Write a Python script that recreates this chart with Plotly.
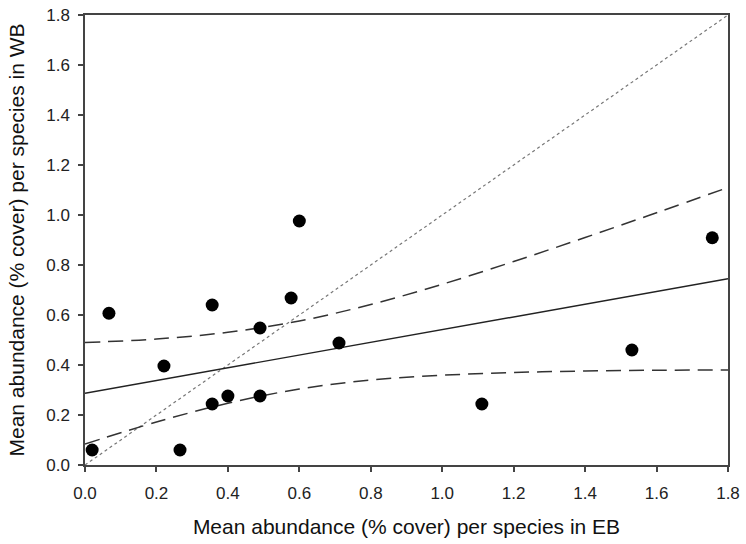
import plotly.graph_objects as go

# Scatter data
eb_x = [0.020, 0.067, 0.221, 0.266, 0.356, 0.356, 0.400, 0.490, 0.490, 0.577, 0.600, 0.711, 1.111, 1.531, 1.756]
wb_y = [0.060, 0.607, 0.396, 0.060, 0.640, 0.244, 0.276, 0.548, 0.276, 0.668, 0.976, 0.488, 0.244, 0.460, 0.909]

# Regression line endpoints (read)
fit_x = [0.0, 1.8]
fit_y = [0.287, 0.745]

# Confidence band (read at grid points)
ci_x = [0.0, 0.2, 0.4, 0.6, 0.8, 1.0, 1.2, 1.4, 1.6, 1.8]
ci_upper = [0.490, 0.504, 0.531, 0.576, 0.642, 0.723, 0.814, 0.910, 1.009, 1.110]
ci_lower = [0.084, 0.172, 0.247, 0.304, 0.340, 0.359, 0.370, 0.376, 0.379, 0.380]

# 1:1 line
one_x = [0.0, 1.8]
one_y = [0.0, 1.8]

tick_vals = [0.0, 0.2, 0.4, 0.6, 0.8, 1.0, 1.2, 1.4, 1.6, 1.8]
tick_text = ["0.0", "0.2", "0.4", "0.6", "0.8", "1.0", "1.2", "1.4", "1.6", "1.8"]

FONT = "Liberation Sans, Arial, sans-serif"

fig = go.Figure()
fig.add_trace(go.Scatter(x=one_x, y=one_y, mode="lines",
                         line=dict(color="#777777", width=1.2, dash="dot"), hoverinfo="skip"))
fig.add_trace(go.Scatter(x=ci_x, y=ci_upper, mode="lines", line_shape="spline",
                         line=dict(color="#333333", width=1.5, dash="15px,8px")))
fig.add_trace(go.Scatter(x=ci_x, y=ci_lower, mode="lines", line_shape="spline",
                         line=dict(color="#333333", width=1.5, dash="15px,8px")))
fig.add_trace(go.Scatter(x=fit_x, y=fit_y, mode="lines",
                         line=dict(color="#222222", width=1.4)))
fig.add_trace(go.Scatter(x=eb_x, y=wb_y, mode="markers",
                         marker=dict(color="black", size=13)))

axis_common = dict(
    range=[0, 1.8], tickvals=tick_vals, ticktext=tick_text,
    showgrid=False, zeroline=False, automargin=False,
    showline=True, linecolor="#444444", linewidth=1.5, mirror=True,
    ticks="outside", ticklen=5, tickwidth=1.5, tickcolor="#444444",
    tickfont=dict(family=FONT, size=17, color="#222222"),
)

fig.update_layout(
    width=746, height=544,
    margin=dict(l=85, r=18, t=15, b=79),
    paper_bgcolor="white", plot_bgcolor="white",
    showlegend=False,
    font=dict(family=FONT, color="#111111"),
    xaxis=dict(axis_common, ticklabelstandoff=7,
               title=dict(text="Mean abundance (% cover) per species in EB",
                          font=dict(size=21), standoff=17)),
    yaxis=dict(axis_common, ticklabelstandoff=5,
               title=dict(text="Mean abundance (% cover) per species in WB",
                          font=dict(size=21), standoff=16)),
)

fig.write_html("out.html",
               config={"displayModeBar": False},
               post_script="document.body.style.margin='0';document.body.style.overflow='hidden';")
